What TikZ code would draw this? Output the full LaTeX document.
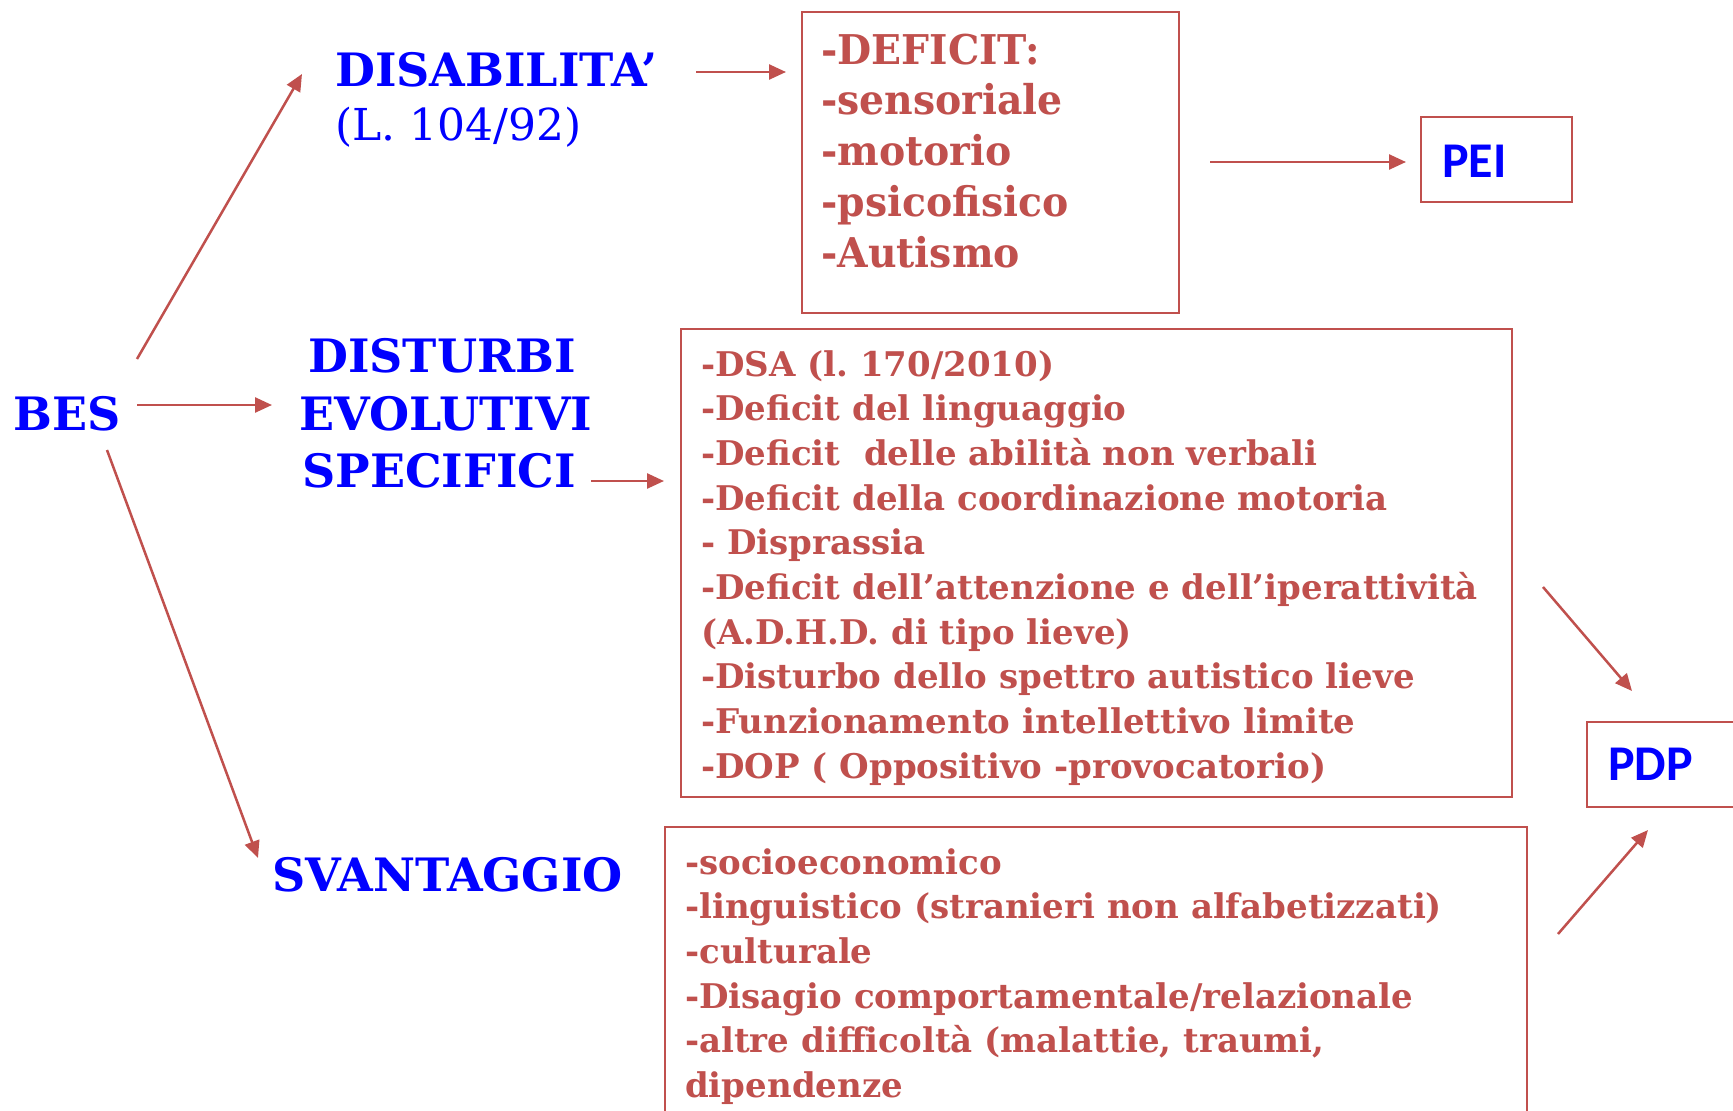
\documentclass[tikz,border=0pt]{standalone}
\usepackage{fontspec}
\setmainfont{DejaVu Serif}
\newfontfamily\gfont{DejaVu Serif}
\newfontfamily\dfont[FakeStretch=0.96]{DejaVu Serif}
\newfontfamily\cfont{Carlito}
\usetikzlibrary{arrows.meta}
\definecolor{rb}{HTML}{C0504D}
\definecolor{bl}{HTML}{0000FF}
\frenchspacing
\begin{document}
\begin{tikzpicture}[x=1pt,y=-1pt,
  conn/.style={draw=rb, line width=2.5pt, -{Triangle[length=17pt,width=15pt]}},
  frame/.style={draw=rb, line width=2.3pt, inner sep=0pt, outer sep=0pt, anchor=north west},
  head/.style={text=bl, font=\gfont\bfseries\fontsize{46}{56}\selectfont, inner sep=0pt, anchor=base west},
  headc/.style={head, anchor=base},
  law/.style={text=bl, font=\gfont\mdseries\fontsize{44}{52}\selectfont, inner sep=0pt, anchor=base west},
  plan/.style={text=bl, font=\cfont\bfseries\fontsize{50}{60}\selectfont, inner sep=0pt, anchor=base west},
  deftxt/.style={text=rb, font=\dfont\bfseries\fontsize{41}{50}\selectfont, inner sep=0pt, anchor=base west},
  boxtxt/.style={text=rb, font=\gfont\bfseries\fontsize{34}{44}\selectfont, inner sep=0pt, anchor=base west}
]
\clip (0,0) rectangle (1733,1111);
\fill[white] (0,0) rectangle (1733,1111);

% boxes
\node[frame, minimum width=377pt, minimum height=301pt] (defbox) at (802,12) {};
\node[frame, minimum width=151pt, minimum height=85pt] (peibox) at (1421,117) {};
\node[frame, minimum width=831pt, minimum height=468pt] (dsabox) at (681,329) {};
\node[frame, minimum width=200pt, minimum height=85pt] (pdpbox) at (1587,722) {};
\node[frame, minimum width=862pt, minimum height=320pt] (svbox) at (665,827) {};

% blue headings
\node[head] (bes) at (13,430) {BES};
\node[head] (disab) at (335,86) {DISABILITA’};
\node[law] (legge) at (335,140) {(L. 104/92)};
\node[headc] (dist1) at (442,372) {DISTURBI};
\node[headc] (dist2) at (446,430) {EVOLUTIVI};
\node[headc] (dist3) at (439,487) {SPECIFICI};
\node[head] (svant) at (272,891) {SVANTAGGIO};
\node[plan] (pei) at (1442,177) {PEI};
\node[plan] (pdp) at (1608,780) {PDP};

% box texts
\foreach \t [count=\i] in {-DEFICIT:,-sensoriale,-motorio,-psicofisico,-Autismo}
  \node[deftxt] (def\i) at (821,{64+50.75*(\i-1)}) {\t};
\foreach \t [count=\i] in {{-DSA (l. 170/2010)},{-Deficit del linguaggio},{-Deficit\ \ delle abilità non verbali},{-Deficit della coordinazione motoria},{- Disprassia},{-Deficit dell’attenzione e dell’iperattività},{(A.D.H.D. di tipo lieve)},{-Disturbo dello spettro autistico lieve},{-Funzionamento intellettivo limite},{-DOP ( Oppositivo -provocatorio)}}
  \node[boxtxt] (dsa\i) at (701,{376+44.7*(\i-1)}) {\t};
\foreach \t [count=\i] in {{-socioeconomico},{-linguistico (stranieri non alfabetizzati)},{-culturale},{-Disagio comportamentale/relazionale},{-altre difficoltà (malattie, traumi,},{dipendenze}}
  \node[boxtxt] (sv\i) at (685,{874+44.7*(\i-1)}) {\t};

% connector end points
\coordinate (s1) at (137,359); \coordinate (e1) at (302,74);
\coordinate (s2) at (137,405); \coordinate (e2) at (272,405);
\coordinate (s3) at (107,450); \coordinate (e3) at (258,858);
\coordinate (s4) at (696,72);  \coordinate (e4) at (786,72);
\coordinate (s5) at (1210,162); \coordinate (e5) at (1406,162);
\coordinate (s6) at (591,481); \coordinate (e6) at (664,481);
\coordinate (s7) at (1543,587); \coordinate (e7) at (1632,691);
\coordinate (s8) at (1558,934); \coordinate (e8) at (1648,830);

\foreach \k in {1,...,8}
  \draw[conn] (s\k) -- (e\k);
\end{tikzpicture}
\end{document}
